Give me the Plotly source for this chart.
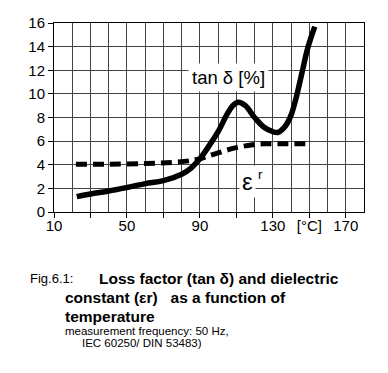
import plotly.graph_objects as go

# Data
tan_x = [22.5, 30, 40, 50, 60, 70, 80, 85, 90, 95, 100, 105, 108, 111, 115, 120, 125, 130, 133, 137, 140, 143, 146, 149, 151, 153]
tan_y = [1.3, 1.53, 1.78, 2.08, 2.4, 2.65, 3.2, 3.7, 4.5, 5.6, 6.8, 8.3, 9.0, 9.3, 9.0, 8.0, 7.2, 6.8, 6.75, 7.3, 8.2, 9.8, 11.8, 13.8, 14.8, 15.7]
eps_x = [22, 40, 60, 75, 85, 90, 95, 100, 105, 110, 115, 120, 125, 130, 150]
eps_y = [4.05, 4.05, 4.1, 4.2, 4.35, 4.5, 4.75, 5.0, 5.25, 5.45, 5.6, 5.72, 5.77, 5.78, 5.78]

x_gridvals = [10, 20, 30, 40, 50, 60, 70, 80, 90, 100, 110, 120, 130, 140, 150, 160, 170, 180]
x_tickvals = [10, 30, 50, 70, 90, 110, 130, 150, 170]
x_ticktext = ["10", "", "50", "", "90", "", "130", "[°C]", "170"]
y_tickvals = [0, 2, 4, 6, 8, 10, 12, 14, 16]

FONT = "Liberation Sans, Arial, sans-serif"
GRID = "#444444"

fig = go.Figure()
fig.add_trace(go.Scatter(x=eps_x, y=eps_y, mode="lines", line=dict(color="black", width=5, dash="11px,6px", shape="spline"), hoverinfo="skip"))
fig.add_trace(go.Scatter(x=tan_x, y=tan_y, mode="lines", line=dict(color="black", width=5.5, shape="spline"), hoverinfo="skip"))

W, H = 388, 373
L, R, T, B = 54, 24, 23, 161
pw, ph = W - L - R, H - T - B

def px(x):
    return (x - L) / pw

def py(y):
    return (H - B - y) / ph

annots = [
    dict(x=105.5, y=11.4, xref="x", yref="y", text="tan δ [%]", font=dict(size=18.5, family=FONT, color="black"), bgcolor="white", borderpad=3),
    dict(x=116.3, y=2.6, xref="x", yref="y", text="ε", font=dict(size=24, family=FONT, color="black"), bgcolor="white", borderpad=2),
    dict(x=123.2, y=3.2, xref="x", yref="y", text="r", font=dict(size=13, family=FONT, color="black"), bgcolor="white", borderpad=1),
    dict(x=px(29), y=py(278), xref="paper", yref="paper", xanchor="left", yanchor="middle", text="Fig.6.1:", font=dict(size=13, family=FONT, color="black"), borderpad=0),
    dict(x=px(98), y=py(278), xref="paper", yref="paper", xanchor="left", yanchor="middle", text="<b>Loss factor (tan δ) and dielectric</b>", font=dict(size=15.5, family=FONT, color="black"), borderpad=0),
    dict(x=px(63.5), y=py(297.5), xref="paper", yref="paper", xanchor="left", yanchor="middle", text="<b>constant (εr)   as a function of</b>", font=dict(size=15.5, family=FONT, color="black"), borderpad=0),
    dict(x=px(63.5), y=py(316), xref="paper", yref="paper", xanchor="left", yanchor="middle", text="<b>temperature</b>", font=dict(size=15.5, family=FONT, color="black"), borderpad=0),
    dict(x=px(64), y=py(330.5), xref="paper", yref="paper", xanchor="left", yanchor="middle", text="measurement frequency: 50 Hz,", font=dict(size=11.5, family=FONT, color="black"), borderpad=0),
    dict(x=px(81), y=py(343), xref="paper", yref="paper", xanchor="left", yanchor="middle", text="IEC 60250/ DIN 53483)", font=dict(size=11.5, family=FONT, color="black"), borderpad=0),
]
for a in annots:
    a["showarrow"] = False
    fig.add_annotation(**a)

fig.update_layout(
    width=W, height=H,
    margin=dict(l=L, r=R, t=T, b=B, pad=0),
    paper_bgcolor="white", plot_bgcolor="white",
    showlegend=False,
    font=dict(family=FONT, color="black"),
)
fig.update_xaxes(
    range=[10, 180], tickmode="array", tickvals=x_gridvals,
    ticktext=[x_ticktext[x_tickvals.index(v)] if v in x_tickvals else "" for v in x_gridvals],
    ticks="", tickfont=dict(size=15, color="black"),
    showgrid=True, gridcolor=GRID, gridwidth=1,
    minor=dict(tickmode="array", tickvals=x_tickvals, showgrid=False, ticks="outside", ticklen=5, tickcolor="black"),
    showline=True, linecolor="black", linewidth=1, mirror=True, zeroline=False,
)
fig.update_yaxes(
    range=[0, 16], tickmode="array", tickvals=y_tickvals,
    ticks="outside", ticklen=5, tickcolor="black", tickfont=dict(size=15, color="black"),
    showgrid=True, gridcolor=GRID, gridwidth=1,
    showline=True, linecolor="black", linewidth=1, mirror=True, zeroline=False,
)

fig.write_html("out.html", config={"displayModeBar": False},
               post_script="document.body.style.margin='0';document.body.style.overflow='hidden';")
